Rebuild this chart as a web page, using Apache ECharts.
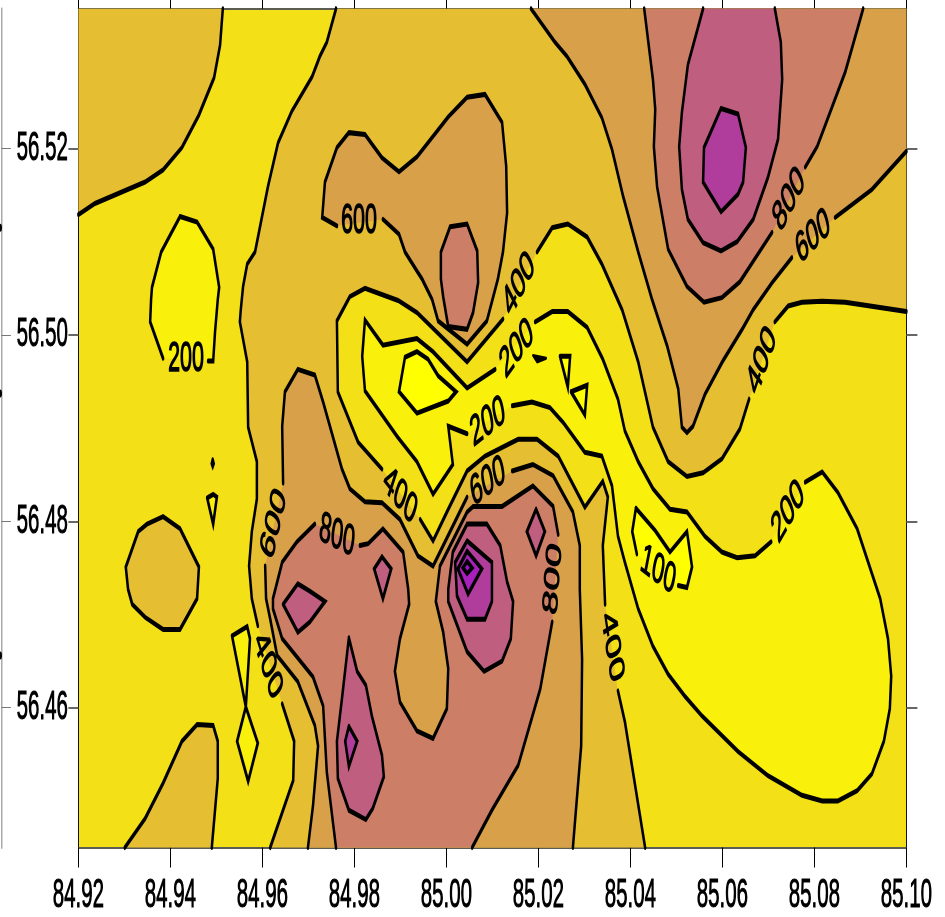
<!DOCTYPE html>
<html>
<head>
<meta charset="utf-8">
<script src="https://cdn.jsdelivr.net/npm/echarts@6/dist/echarts.min.js"></script>
<style>
html,body{margin:0;padding:0;background:#fff;overflow:hidden;width:945px;height:917px}
/* the reference is a horizontally squeezed plot: draw wide, squeeze to half */
#main{width:1890px;height:917px;transform:scaleX(.5);transform-origin:0 0}
</style>
</head>
<body>
<div id="main"></div>
<script>
const lonTicks = [84.92,84.94,84.96,84.98,85.00,85.02,85.04,85.06,85.08,85.10];
const latTicks = [56.46,56.48,56.50,56.52];
const lonRange = [84.92,85.10];
const latRange = [56.445,56.535];
const edgeDotLats = [56.5115,56.4937,56.4656];

// contour paths: [lon,lat]; null = the contour line is broken here (label gap or plot edge)
const c400corner = [[84.92,56.5129],[84.9236,56.5141],[84.9345,56.5164],[84.9384,56.5177],[84.9425,56.5201],[84.9462,56.5236],[84.9495,56.5276],[84.9508,56.5311],[84.9514,56.535],null,[84.92,56.535]];
const c400main = [[84.976,56.535],[84.974,56.5314],[84.9725,56.5299],[84.9708,56.5277],[84.9664,56.524],[84.9634,56.5206],[84.9612,56.5159],[84.9584,56.5089],[84.9567,56.5076],[84.9558,56.5052],[84.9553,56.5027],[84.9551,56.5014],[84.9567,56.4971],[84.9569,56.4901],[84.9588,56.4864],[84.9588,56.4824],[84.9577,56.4789],[84.9571,56.4752],[84.9577,56.4717],[84.959,56.4688],null,[84.9643,56.4604],[84.9669,56.4564],[84.9667,56.4522],[84.9617,56.445],null,
 [85.0432,56.445],[85.0388,56.4585],[85.0373,56.4618],null,[85.0345,56.4711],[85.034,56.4774],[85.0351,56.4826],[85.034,56.4843],[85.0301,56.4815],[85.0243,56.487],[85.0197,56.4888],[85.0156,56.4888],[85.0084,56.487],[85.0045,56.4854],[85.0004,56.4813],[84.9971,56.4779],[84.9943,56.4802],null,[84.986,56.4856],[84.9808,56.4885],[84.9764,56.4939],[84.9762,56.5015],[84.979,56.5041],[84.9823,56.505],[84.9895,56.5037],[84.9936,56.5024],[85.0045,56.4971],[85.0123,56.5017],null,[85.0197,56.5089],[85.023,56.5115],[85.0264,56.5119],[85.0306,56.5105],[85.0338,56.5076],[85.0382,56.5027],[85.0417,56.4971],[85.0449,56.4901],[85.0482,56.4864],[85.0523,56.4848],[85.0558,56.4852],[85.0599,56.4867],[85.0638,56.4899],[85.0658,56.4931],null,[85.0714,56.5014],[85.0743,56.5031],[85.0773,56.5035],[85.0817,56.5036],[85.0867,56.5035],[85.10,56.5025],null,[85.10,56.535]];
const c400oval = [[84.9384,56.4805],[84.9421,56.4792],[84.9462,56.4751],[84.9458,56.4717],[84.9421,56.4684],[84.9384,56.4684],[84.9345,56.4697],[84.9317,56.4711],[84.9308,56.4727],[84.9303,56.4751],[84.933,56.4789],[84.9349,56.4797],[84.9384,56.4805]];
const c400hill = [[84.9301,56.445],[84.9345,56.4481],[84.9384,56.4519],[84.9425,56.4564],[84.9458,56.4582],[84.9493,56.4581],[84.9503,56.4564],[84.9503,56.4524],[84.949,56.445]];

const c200west = [[84.9421,56.5127],[84.9458,56.5121],[84.9493,56.5092],[84.9506,56.5051],[84.9503,56.5038],[84.9497,56.5003],[84.9493,56.4972],[84.9482,56.4972],null,[84.9384,56.4975],[84.9356,56.5014],[84.9358,56.5038],[84.936,56.5051],[84.938,56.5089],[84.9421,56.5127]];
const c200sliver = [[84.948,56.4825],[84.9493,56.4829],[84.9501,56.4826],[84.9493,56.4797],[84.948,56.4825]];
const c200speck = [[84.9492,56.4866],[84.9494,56.4862],[84.9492,56.4859],[84.949,56.4862],[84.9492,56.4866]];
const c200bowtie = [[84.9534,56.4677],[84.9567,56.4687],[84.9573,56.4674],[84.9564,56.4601],[84.959,56.4562],[84.9569,56.4521],[84.9545,56.4564],[84.9564,56.4601],[84.9534,56.4677]];
const c200main = [[85.0045,56.4894],[85.0004,56.4902],[85.0014,56.4861],[84.9971,56.4829],[84.9936,56.4864],[84.9893,56.4891],[84.9823,56.494],[84.9817,56.4977],[84.9823,56.5016],[84.9862,56.4989],[84.9936,56.4996],[84.9971,56.4982],[85.0045,56.4943],[85.0106,56.4963],null,[85.0193,56.5014],[85.023,56.5025],[85.0264,56.5025],[85.0306,56.5008],[85.034,56.4974],[85.0373,56.4931],[85.0388,56.4897],[85.0417,56.4864],[85.0449,56.4835],[85.0486,56.4813],[85.0523,56.481],[85.0562,56.4784],[85.0599,56.4767],[85.0632,56.4761],[85.0671,56.4763],[85.0706,56.4778],null,[85.078,56.4842],[85.0817,56.4853],[85.0851,56.4831],[85.0893,56.4792],[85.0943,56.4717],[85.096,56.4674],[85.0967,56.4634],[85.0964,56.4599],[85.0951,56.4564],[85.0925,56.4529],[85.0893,56.4511],[85.0851,56.45],[85.0817,56.45],[85.0773,56.4506],[85.0699,56.4527],[85.0634,56.4553],[85.0556,56.4591],[85.0519,56.4612],[85.0482,56.4636],[85.0449,56.4666],[85.0417,56.4706],[85.0388,56.4756],[85.0373,56.4784],[85.036,56.4838],[85.0338,56.487],[85.0301,56.4874],[85.0254,56.4906],[85.0225,56.4922],[85.0186,56.4928],[85.0143,56.4924]];

const c100center = [[84.991,56.4976],[84.9936,56.4982],[84.996,56.4974],[84.9982,56.4956],[85.0021,56.4939],[85.0004,56.4929],[84.9936,56.4916],[84.9897,56.4939],[84.991,56.4976]];
const c100wedge = [[85.0247,56.4977],[85.0269,56.4977],[85.0264,56.4944],[85.0247,56.4977]];
const c100tri = [[85.0271,56.4939],[85.0306,56.4946],[85.0301,56.4914],[85.0271,56.4939]];
const c100east = [[85.0412,56.4814],[85.0454,56.479],[85.0486,56.4767],[85.0523,56.4789],[85.0534,56.4751],[85.0523,56.4729],[85.0504,56.4731],null,[85.0414,56.4765],[85.0404,56.4789],[85.0412,56.4814]];

const c600south = [[84.9699,56.445],[84.971,56.4495],[84.9721,56.4559],[84.9714,56.4581],[84.9677,56.4628],[84.9632,56.4656],[84.9617,56.4695],[84.9608,56.4717],[84.9606,56.4752],null,[84.9645,56.4841],[84.9643,56.4902],[84.9649,56.4939],[84.9677,56.4963],[84.9714,56.4957],[84.9732,56.4928],[84.9773,56.4856],[84.979,56.4835],[84.9823,56.4821],[84.986,56.482],[84.9899,56.4802],[84.9938,56.4763],[84.9971,56.4752],[85.0045,56.4826],null,[85.0143,56.4854],[85.0188,56.4861],[85.0232,56.4849],[85.0275,56.481],[85.029,56.4774],[85.029,56.4727],[85.0295,56.4652],[85.0293,56.4559],[85.0275,56.445]];
const c600top = [[84.9862,56.5124],[84.9897,56.5108],[84.991,56.5089],[84.9938,56.5067],[84.9947,56.506],[84.9969,56.5038],[84.9982,56.5015],[85.0045,56.499],[85.0088,56.5015],[85.0112,56.506],[85.0123,56.5089],[85.0132,56.5131],[85.013,56.5181],[85.0121,56.5228],[85.0084,56.5258],[85.0045,56.5255],[85.0004,56.5234],[84.9936,56.5191],[84.9897,56.5175],[84.986,56.519],[84.9823,56.5215],[84.9788,56.5217],[84.9762,56.5201],[84.9736,56.5164],[84.973,56.5126],[84.9762,56.5117]];
const c600east = [[85.0184,56.535],[85.0236,56.5314],[85.0262,56.5299],[85.0301,56.5269],[85.0338,56.5233],[85.036,56.5199],[85.0384,56.5149],[85.0417,56.5089],[85.0447,56.5038],[85.048,56.4988],[85.0504,56.4942],[85.0512,56.4901],[85.0523,56.4895],[85.0536,56.4902],[85.0562,56.4936],[85.0601,56.4972],[85.0643,56.5006],[85.0667,56.5027],[85.0708,56.5056],[85.0751,56.5083],null,[85.0845,56.5126],[85.0925,56.5156],[85.10,56.5197],null,[85.10,56.535]];

const c800east = [[85.043,56.535],[85.0449,56.5274],[85.0454,56.5242],[85.0451,56.5202],[85.0458,56.5159],[85.0482,56.5092],[85.0523,56.5052],[85.056,56.5035],[85.0599,56.504],[85.0638,56.5057],[85.0708,56.511],null,[85.078,56.518],[85.0806,56.5202],[85.0838,56.5244],[85.0867,56.5282],[85.0906,56.535]];
const c800top = [[85.0008,56.5116],[85.0045,56.5119],[85.0067,56.509],[85.0069,56.5056],[85.0058,56.5024],[85.0045,56.5006],[85.0004,56.5009],[84.9993,56.5041],[84.9988,56.506],[84.9988,56.5089],[85.0008,56.5116]];
const c800south = [[84.976,56.445],[84.974,56.4531],[84.9732,56.4602],[84.971,56.4633],[84.9643,56.4674],[84.9623,56.4706],[84.9623,56.4717],[84.9643,56.4756],[84.9675,56.4778],[84.9714,56.4797],null,[84.9812,56.4774],[84.983,56.4776],[84.9862,56.4792],[84.9906,56.4767],[84.9917,56.4727],[84.9919,56.4711],[84.9899,56.4674],[84.9888,56.4639],[84.9899,56.4606],[84.9936,56.4575],[84.9971,56.4567],[85.0001,56.4599],[85.0004,56.4642],[84.9993,56.4681],[84.9977,56.4714],[84.9986,56.4752],[85.0045,56.481],[85.0058,56.4816],[85.0121,56.4816],[85.0188,56.4838],[85.0232,56.4816],[85.0243,56.4786],null,[85.023,56.4692],[85.0204,56.462],[85.0156,56.4538],[85.0099,56.449],[85.0056,56.445]];

const c1000east = [[85.0558,56.535],[85.0525,56.529],[85.0512,56.5239],[85.0506,56.5202],[85.0512,56.5156],[85.0525,56.5124],[85.0558,56.5099],[85.0597,56.509],[85.0632,56.51],[85.0667,56.5124],[85.0699,56.5169],[85.0721,56.521],[85.073,56.5274],[85.0727,56.5314],[85.0714,56.535]];
const c1000west = [[84.9645,56.4711],[84.9677,56.4733],[84.9703,56.4725],[84.9736,56.4714],[84.9703,56.4692],[84.9677,56.4681],[84.9645,56.4711]];
const c1000small = [[84.986,56.4762],[84.988,56.4749],[84.9862,56.4717],[84.9843,56.4749],[84.986,56.4762]];
const c1000diamond = [[85.0195,56.4813],[85.0214,56.4789],[85.0195,56.4763],[85.0175,56.4789],[85.0195,56.4813]];
const c1000drop = [[84.9788,56.4675],[84.9806,56.4639],[84.9825,56.4624],[84.9838,56.4591],[84.986,56.4549],[84.9864,56.4526],[84.984,56.4492],[84.9825,56.448],[84.9788,56.449],[84.9764,56.4524],[84.9762,56.4564],[84.9773,56.461],[84.9788,56.4675]];
const c1000center = [[85.0004,56.4727],[85.0014,56.4767],[85.0045,56.4797],[85.0088,56.4797],[85.0117,56.4774],[85.0132,56.4735],[85.0145,56.4714],[85.014,56.4674],[85.0121,56.465],[85.0082,56.4639],[85.0045,56.466],[85.0004,56.4714],[85.0004,56.4727]];

const c1200east = [[85.0597,56.5243],[85.0634,56.5237],[85.0651,56.5201],[85.0645,56.5164],[85.0634,56.5151],[85.0597,56.5132],[85.0558,56.5164],[85.056,56.5201],[85.0597,56.5243]];
const c1200drop = [[84.9788,56.458],[84.9806,56.4564],[84.9788,56.4537],[84.978,56.4564],[84.9788,56.458]];
const c1200center = [[85.0045,56.4779],[85.0099,56.4756],[85.0099,56.4714],[85.0084,56.4695],[85.0045,56.4695],[85.0023,56.472],[85.0019,56.4756],[85.0045,56.4779]];
const c1400center = [[85.0045,56.4768],[85.0077,56.4749],[85.0047,56.4722],[85.0025,56.4749],[85.0045,56.4768]];
const c1600center = [[85.0045,56.4757],[85.0056,56.475],[85.0045,56.4744],[85.0036,56.475],[85.0045,56.4757]];
const blackSpot = [[85.0188,56.4978],[85.0217,56.4975],[85.0197,56.4971],[85.0188,56.4978]];

// labels on the contour lines
const labelText = ['200','600','400','200','200','400','600','800','800','600','400','400','400','200','100','800','600'];
const labelLon  = [84.9434,84.9810,85.0158,85.0153,85.0090,84.9899,85.0090,84.9762,85.0232,84.9625,84.9612,85.0360,85.0686,85.0743,85.0460,85.0745,85.0797];
const labelLat  = [56.4974,56.5122,56.5054,56.4985,56.4906,56.4827,56.4842,56.4784,56.4738,56.4797,56.4645,56.4665,56.4972,56.4810,56.4747,56.5145,56.5105];
const labelAngle= [0,0,45,35,22,-33,22,-14,82,66,-58,-73,56,41,-21,45,28];

const bandColor = {100:'#FFFF00',200:'#F9F00B',400:'#E5BF31',600:'#D8A049',800:'#CC7F66',1000:'#BF5E7F',1200:'#B03D9B',1400:'#A81FBD',1600:'#A012D0'};
const contours = [
 [400,c400corner],[400,c400main],[400,c400oval],[400,c400hill],
 [200,c200west],[200,c200sliver],[200,c200speck],[200,c200bowtie],[200,c200main],
 [100,c100center],[100,c100wedge],[100,c100tri],[100,c100east],
 [600,c600south],[600,c600top],[600,c600east],
 [800,c800east],[800,c800top],[800,c800south],
 [1000,c1000east],[1000,c1000west],[1000,c1000small],[1000,c1000diamond],[1000,c1000drop],[1000,c1000center],
 [1200,c1200east],[1200,c1200drop],[1200,c1200center],
 [1400,c1400center],[1600,c1600center]
];

const chart = echarts.init(document.getElementById('main'),null,{renderer:'canvas',devicePixelRatio:1});
const FONT = '"Liberation Sans",Arial,Helvetica,sans-serif';
const contourData = contours.map((c,i)=>[c[1][0][0],c[1][0][1],i]);

function fillItem(params,api){
  const c = contours[api.value(2)];
  const pts = c[1].filter(Boolean).map(p=>api.coord(p));
  return {type:'polygon',shape:{points:pts},style:{fill:bandColor[c[0]],stroke:null},silent:true};
}
function lineItem(params,api){
  const c = contours[api.value(2)];
  const parts=[];let cur=[];
  c[1].forEach(p=>{ if(p){cur.push(api.coord(p));} else {parts.push(cur);cur=[];} });
  parts.push(cur);
  return {type:'group',children:parts.filter(s=>s.length>1).map(s=>({
    type:'polyline',shape:{points:s},silent:true,
    style:{fill:null,stroke:'#000',lineWidth:5,lineJoin:'miter',miterLimit:6,lineCap:'round'}
  }))};
}
function labelItem(params,api){
  const i = api.value(2);
  const p = api.coord([api.value(0),api.value(1)]);
  return {type:'text',x:p[0],y:p[1],rotation:labelAngle[i]*Math.PI/180,silent:true,
    style:{text:labelText[i],font:'43px '+FONT,fill:'#000',stroke:'#000',lineWidth:1.4,textAlign:'center',textVerticalAlign:'middle'}};
}
function spotItem(params,api){
  return {type:'polygon',shape:{points:blackSpot.map(p=>api.coord(p))},silent:true,
    style:{fill:'#000',stroke:'#000',lineWidth:3,lineJoin:'round'}};
}
function edgeDotItem(params,api){
  const p = api.coord([lonRange[0],api.value(0)]);
  return {type:'circle',shape:{cx:0,cy:p[1],r:4},silent:true,style:{fill:'#000'}};
}
const hide = {show:false};
chart.setOption({
  animation:false,
  backgroundColor:'#fff',
  grid:{left:156.8,right:77.2,top:8.7,bottom:68,show:true,backgroundColor:'#F4E016',borderWidth:0,containLabel:false},
  xAxis:[
   {type:'value',position:'bottom',min:lonRange[0],max:lonRange[1],splitLine:hide,
    axisLine:{show:true,onZero:false,lineStyle:{color:'#5c5c50',width:2}},
    axisTick:{show:true,length:20,customValues:lonTicks,lineStyle:{color:'#000',width:2}},
    axisLabel:{show:true,customValues:lonTicks,margin:28,color:'#000',fontFamily:FONT,fontSize:41,hideOverlap:false,
      textBorderColor:'#000',textBorderWidth:1,showMinLabel:true,showMaxLabel:true,formatter:v=>v.toFixed(2)}},
   {type:'value',position:'top',min:lonRange[0],max:lonRange[1],splitLine:hide,
    axisLine:{show:true,onZero:false,lineStyle:{color:'#5c5c50',width:2}},
    axisTick:{show:true,length:9,customValues:lonTicks,lineStyle:{color:'#000',width:2}},
    axisLabel:hide}
  ],
  yAxis:[
   {type:'value',position:'left',min:latRange[0],max:latRange[1],splitLine:hide,
    axisLine:{show:true,onZero:false,lineStyle:{color:'#111',width:2}},
    axisTick:{show:true,length:20,customValues:latTicks,lineStyle:{color:'#666',width:2}},
    axisLabel:{show:true,customValues:latTicks,margin:21,color:'#000',fontFamily:FONT,fontSize:41,
      textBorderColor:'#000',textBorderWidth:1,formatter:v=>v.toFixed(2)}},
   {type:'value',position:'right',min:latRange[0],max:latRange[1],splitLine:hide,
    axisLine:{show:true,onZero:false,lineStyle:{color:'#111',width:2}},
    axisTick:{show:true,length:22,customValues:latTicks,lineStyle:{color:'#666',width:2}},
    axisLabel:hide},
   {type:'value',position:'left',offset:154,min:latRange[0],max:latRange[1],splitLine:hide,
    axisLine:{show:true,onZero:false,lineStyle:{color:'#aaa',width:3}},
    axisTick:{show:true,inside:true,length:19,customValues:latTicks,lineStyle:{color:'#777',width:1}},
    axisLabel:hide}
  ],
  series:[
   {type:'custom',name:'bands',coordinateSystem:'cartesian2d',clip:false,z:1,renderItem:fillItem,data:contourData,encode:{x:0,y:1}},
   {type:'custom',name:'contours',coordinateSystem:'cartesian2d',clip:false,z:2,renderItem:lineItem,data:contourData,encode:{x:0,y:1}},
   {type:'custom',name:'spot',coordinateSystem:'cartesian2d',clip:false,z:3,renderItem:spotItem,data:[[blackSpot[0][0],blackSpot[0][1]]],encode:{x:0,y:1}},
   {type:'custom',name:'labels',coordinateSystem:'cartesian2d',clip:false,z:4,renderItem:labelItem,
    data:labelText.map((t,i)=>[labelLon[i],labelLat[i],i]),encode:{x:0,y:1}},
   {type:'custom',name:'edgeDots',coordinateSystem:'cartesian2d',clip:false,z:4,renderItem:edgeDotItem,
    data:edgeDotLats.map(v=>[v]),encode:{y:0}}
  ]
});
</script>
</body>
</html>
